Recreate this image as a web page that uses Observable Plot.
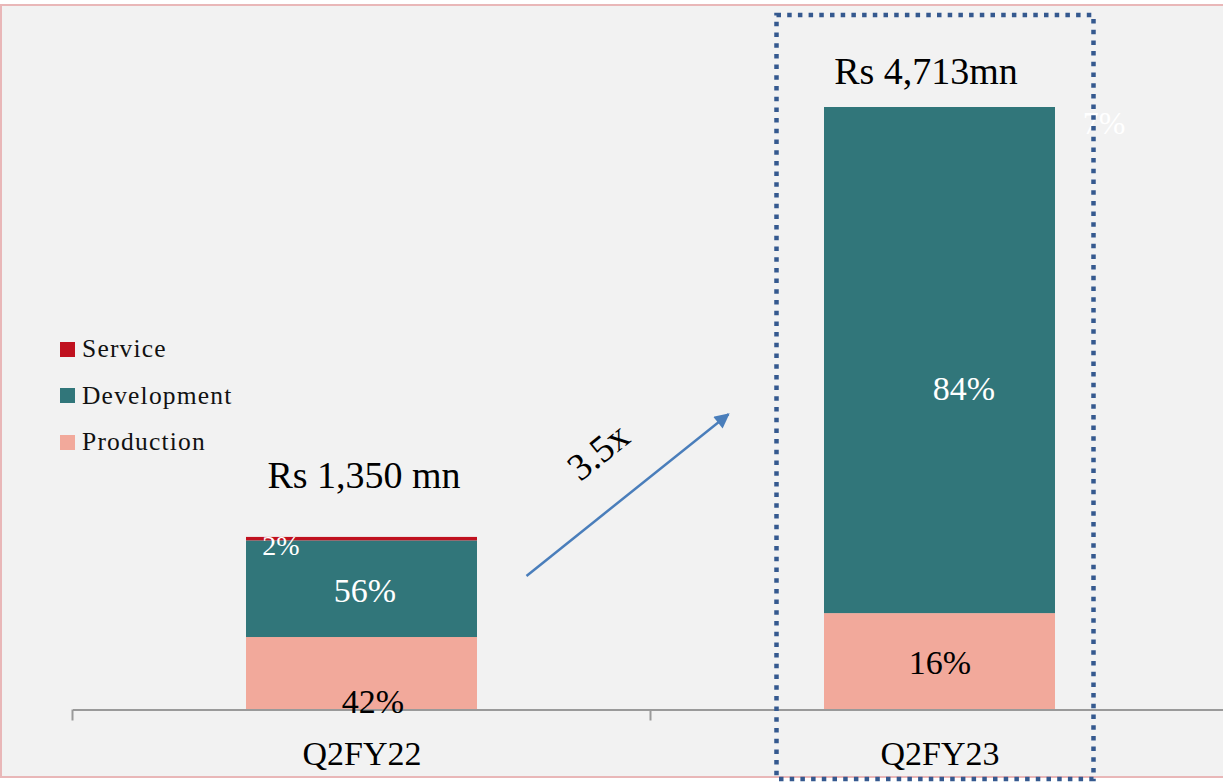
<!DOCTYPE html>
<html>
<head>
<meta charset="utf-8">
<script src="https://cdn.jsdelivr.net/npm/d3@7"></script>
<script src="https://cdn.jsdelivr.net/npm/@observablehq/plot@0.6"></script>
<style>
  html, body { margin: 0; padding: 0; background: #ffffff; }
  #wrap { position: relative; width: 1223px; height: 783px; overflow: hidden; font-family: "Liberation Serif", serif; }
  #bg { position: absolute; left: 0; top: 4px; width: 1240px; height: 770px; background: #f2f2f2; border: 2px solid #e9b7b8; box-sizing: content-box; }
  #chart { position: absolute; left: 0; top: 0; }
  #legend { position: absolute; left: 60px; top: 326px; }
  .lg { display: flex; align-items: center; height: 46.5px; font-size: 25.5px; letter-spacing: 1.2px; color: #111; }
  .sw { width: 15px; height: 15px; margin-right: 7px; }
</style>
</head>
<body>
<div id="wrap">
  <div id="bg"></div>
  <div id="chart"></div>
  <div id="legend"></div>
</div>
<script>
// ---- data ----
const categories = ["Q2FY22", "Q2FY23"];
const series = ["Production", "Development", "Service"];
const production = [567, 754];
const development = [756, 3959];
const service = [27, 0];
const totalLabels = ["Rs 1,350 mn", "Rs 4,713mn"];
const productionLabels = ["42%", "16%"];
const developmentLabels = ["56%", "84%"];
const serviceLabels = ["2%", "7%"];
const growthLabel = "3.5x";
const colors = ["#f2a99b", "#31767a", "#c0111f"];

// ---- build stacked table ----
const valuesBySeries = [production, development, service];
const labelsBySeries = [productionLabels, developmentLabels, serviceLabels];
const rows = [];
categories.forEach((cat, i) => {
  let acc = 0;
  series.forEach((s, j) => {
    const v = valuesBySeries[j][i];
    rows.push({cat, series: s, value: v, y1: acc, y2: acc + v, mid: acc + v / 2, label: labelsBySeries[j][i]});
    acc += v;
  });
});
const totals = categories.map((cat, i) => ({cat, total: production[i] + development[i] + service[i], label: totalLabels[i]}));

const pick = (cat, s) => rows.filter(r => r.cat === cat && r.series === s);
function segText(cat, s, opts) {
  return Plot.text(pick(cat, s), {x: "cat", y: "mid", text: "label", lineAnchor: "middle", ...opts});
}
function totText(cat, opts) {
  return Plot.text(totals.filter(t => t.cat === cat), {x: "cat", y: "total", text: "label", lineAnchor: "middle", fontSize: 38, fill: "#000", ...opts});
}

const plot = Plot.plot({
  width: 1223,
  height: 783,
  marginTop: 107,
  marginBottom: 73.5,
  marginLeft: 73,
  marginRight: 0,
  style: {background: "transparent", fontFamily: "Liberation Serif, serif", color: "#000"},
  x: {domain: categories, range: [73, 1229], paddingInner: 0.6, paddingOuter: 0.3, axis: null, label: null},
  y: {domain: [0, 4713], axis: null},
  color: {domain: series, range: colors},
  marks: [
    Plot.rectY(rows, {x: "cat", y1: "y1", y2: "y2", fill: "series"}),
    Plot.ruleY([0], {stroke: "#9a9a9a", strokeWidth: 2}),
    Plot.axisX({tickSize: 0, tickPadding: 31, fontSize: 34, fill: "#000", fontVariant: "normal", label: null}),
    segText("Q2FY22", "Production", {fontSize: 34, fill: "#000", dx: 11, dy: 28}),
    segText("Q2FY22", "Development", {fontSize: 34, fill: "#fff", dx: 3, dy: 2}),
    segText("Q2FY22", "Service", {fontSize: 28, fill: "#fff", dx: -81, dy: 7}),
    segText("Q2FY23", "Production", {fontSize: 34, fill: "#000", dx: 0, dy: 1}),
    segText("Q2FY23", "Development", {fontSize: 34, fill: "#fff", dx: 24, dy: 29}),
    segText("Q2FY23", "Service", {fontSize: 32, fill: "#fff", dx: 164, dy: 16}),
    totText("Q2FY22", {dx: 2, dy: -62}),
    totText("Q2FY23", {dx: -14, dy: -36})
  ]
});
document.getElementById("chart").appendChild(plot);

// ---- annotations positioned from the library's scales ----
const xs = plot.scale("x"), ys = plot.scale("y");
const bw = xs.bandwidth, step = xs.step;
const cx = c => xs.apply(c) + bw / 2;
const svg = d3.select(plot);

// category boundary ticks
const bounds = [cx(categories[0]) - step / 2, cx(categories[0]) + step / 2, cx(categories[1]) + step / 2];
svg.append("g").selectAll("line").data(bounds).join("line")
  .attr("x1", d => d).attr("x2", d => d)
  .attr("y1", ys.apply(0)).attr("y2", ys.apply(0) + 11)
  .attr("stroke", "#9a9a9a").attr("stroke-width", 2);

// growth arrow
const defs = svg.append("defs");
defs.append("marker").attr("id", "ah").attr("viewBox", "0 0 10 10").attr("refX", 9).attr("refY", 5)
  .attr("markerWidth", 7).attr("markerHeight", 6).attr("markerUnits", "strokeWidth").attr("orient", "auto")
  .append("path").attr("d", "M0,0L10,5L0,10Z").attr("fill", "#4a7ebb");
const ax1 = cx(categories[0]) + 165, ay1 = ys.apply(1045);
const ax2 = cx(categories[1]) - 211, ay2 = ys.apply(2310);
svg.append("line").attr("x1", ax1).attr("y1", ay1).attr("x2", ax2).attr("y2", ay2)
  .attr("stroke", "#4a7ebb").attr("stroke-width", 2.5).attr("marker-end", "url(#ah)");
const ang = Math.atan2(ay2 - ay1, ax2 - ax1) * 180 / Math.PI;
const mx = (ax1 + ax2) / 2 - 29, my = (ay1 + ay2) / 2 - 43;
svg.append("text").attr("transform", `translate(${mx},${my}) rotate(${ang})`)
  .attr("text-anchor", "middle").attr("dy", "0.32em")
  .attr("font-size", 38).attr("font-family", "Liberation Serif, serif").attr("fill", "#000")
  .text(growthLabel);

// dotted highlight box around Q2FY23
const bc = cx(categories[1]);
svg.append("rect").attr("x", bc - 163).attr("y", 15).attr("width", 317).attr("height", 764)
  .attr("fill", "none").attr("stroke", "#35598f").attr("stroke-width", 4.5)
  .attr("stroke-dasharray", "4.5 6.2");

// legend (top to bottom: Service, Development, Production)
const legend = d3.select("#legend");
[2, 1, 0].forEach(j => {
  const row = legend.append("div").attr("class", "lg");
  row.append("div").attr("class", "sw").style("background", colors[j]);
  row.append("span").text(series[j]);
});
</script>
</body>
</html>
